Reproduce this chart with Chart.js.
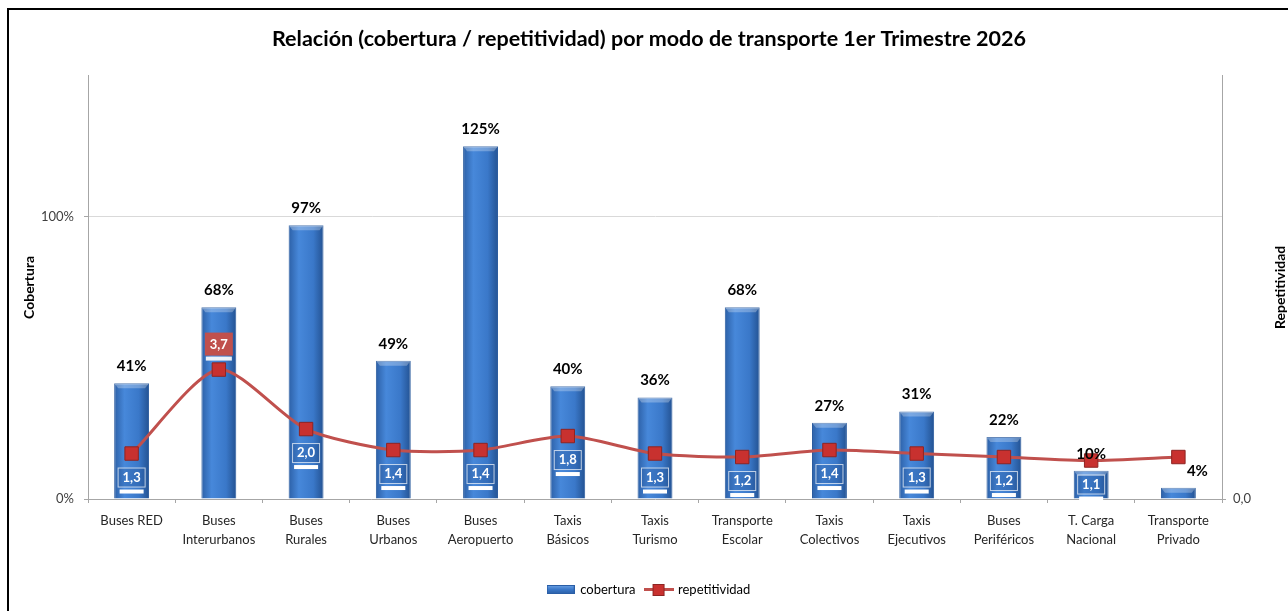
<!DOCTYPE html>
<html lang="es">
<head>
<meta charset="utf-8">
<title>Relación cobertura / repetitividad</title>
<script src="https://cdn.jsdelivr.net/npm/chart.js@4.4.1/dist/chart.umd.min.js"></script>
<style>
  html, body { margin: 0; padding: 0; background: #fff; }
  #wrap { position: relative; width: 1288px; height: 611px; }
  #frame { position: absolute; left: 7px; top: 8px; right: 0; bottom: 0; border-left: 2px solid #000; border-top: 2px solid #000; pointer-events: none; }
</style>
</head>
<body>
<div id="wrap">
  <canvas id="grafico"></canvas>
  <div id="frame"></div>
</div>
<script>
// datos del gráfico
const modos = [
  ['Buses RED'], ['Buses', 'Interurbanos'], ['Buses', 'Rurales'], ['Buses', 'Urbanos'],
  ['Buses', 'Aeropuerto'], ['Taxis', 'Básicos'], ['Taxis', 'Turismo'], ['Transporte', 'Escolar'],
  ['Taxis', 'Colectivos'], ['Taxis', 'Ejecutivos'], ['Buses', 'Periféricos'], ['T. Carga', 'Nacional'],
  ['Transporte', 'Privado']
];
const cobertura = [0.41, 0.68, 0.97, 0.49, 1.25, 0.40, 0.36, 0.68, 0.27, 0.31, 0.22, 0.10, 0.04];
const repetitividad = [1.3, 3.7, 2.0, 1.4, 1.4, 1.8, 1.3, 1.2, 1.4, 1.3, 1.2, 1.1, 1.2];
const ticksCobertura = [0, 1];
const ticksRepetitividad = [0];

const FUENTE = 'Lato, "Open Sans", sans-serif';
Chart.defaults.font.family = FUENTE;
Chart.defaults.color = '#404040';

// degradado horizontal de cada barra
function degradadoBarra(context) {
  const chart = context.chart;
  const x = chart.scales.x;
  if (!x || context.dataIndex === undefined) return '#3a78c8';
  const cx = x.getPixelForValue(context.dataIndex);
  const g = chart.ctx.createLinearGradient(cx - 18, 0, cx + 18, 0);
  g.addColorStop(0, '#2b5ea4');
  g.addColorStop(0.3, '#4788da');
  g.addColorStop(0.7, '#3a78c9');
  g.addColorStop(1, '#22508f');
  return g;
}

// iconos de la leyenda
function iconoBarra() {
  const c = document.createElement('canvas');
  c.width = 28; c.height = 9;
  const ctx = c.getContext('2d');
  const g = ctx.createLinearGradient(0, 0, 0, 9);
  g.addColorStop(0, '#6ea3e6');
  g.addColorStop(0.5, '#3b78c8');
  g.addColorStop(1, '#2a5ea6');
  ctx.fillStyle = g;
  ctx.fillRect(0, 0, 28, 9);
  ctx.strokeStyle = '#2a5ea6';
  ctx.strokeRect(0.5, 0.5, 27, 8);
  return c;
}
function iconoLinea() {
  const c = document.createElement('canvas');
  c.width = 30; c.height = 13;
  const ctx = c.getContext('2d');
  ctx.fillStyle = '#c0504d';
  ctx.fillRect(0, 5, 30, 3);
  ctx.fillStyle = '#c8312f';
  ctx.fillRect(9.5, 1.5, 11, 11);
  ctx.strokeStyle = '#8e2422';
  ctx.strokeRect(9.5, 1.5, 11, 11);
  return c;
}
const iconos = [iconoBarra(), iconoLinea()];

const etiquetas = {
  id: 'etiquetas',
  afterDatasetDraw(chart, args) {
    if (args.index !== 0) return;
    // bisel superior de las barras
    const ctx = chart.ctx;
    ctx.save();
    args.meta.data.forEach(b => {
      const w = b.width / 2;
      const h = Math.min(5, b.base - b.y);
      ctx.fillStyle = 'rgba(255,255,255,0.28)';
      ctx.beginPath();
      ctx.moveTo(b.x - w, b.y);
      ctx.lineTo(b.x + w, b.y);
      ctx.lineTo(b.x + w - 4, b.y + h);
      ctx.lineTo(b.x - w + 4, b.y + h);
      ctx.closePath();
      ctx.fill();
    });
    ctx.restore();
  },
  afterDatasetsDraw(chart) {
    const ctx = chart.ctx;
    const barras = chart.getDatasetMeta(0).data;
    const puntos = chart.getDatasetMeta(1).data;
    ctx.save();
    ctx.textAlign = 'center';
    ctx.textBaseline = 'middle';

    // etiquetas de repetitividad
    ctx.font = 'bold 13px ' + FUENTE;
    puntos.forEach((p, i) => {
      const b = barras[i];
      if (b.base - b.y < 20) return;
      const texto = repetitividad[i].toFixed(1).replace('.', ',');
      if (i === 1) {
        const cy = p.y - 25;
        ctx.fillStyle = '#c0504d';
        ctx.fillRect(p.x - 14, cy - 12, 28, 23);
        ctx.fillStyle = 'rgba(255,255,255,0.9)';
        ctx.fillRect(p.x - 13, cy + 12, 26, 4);
        ctx.fillStyle = '#fff';
        ctx.fillText(texto, p.x, cy);
      } else {
        const cy = p.y + 24;
        ctx.fillStyle = 'rgba(30,75,140,0.25)';
        ctx.fillRect(p.x - 13.5, cy - 9.5, 27, 19);
        ctx.strokeStyle = 'rgba(255,255,255,0.7)';
        ctx.lineWidth = 1;
        ctx.strokeRect(p.x - 13.5, cy - 9.5, 27, 19);
        ctx.fillStyle = '#fff';
        ctx.fillRect(p.x - 12, cy + 12, 24, 4);
        ctx.fillText(texto, p.x, cy);
      }
    });

    // porcentajes sobre las barras
    ctx.font = 'bold 15px ' + FUENTE;
    ctx.fillStyle = '#000';
    barras.forEach((b, i) => {
      const dx = i === barras.length - 1 ? 19 : 0;
      ctx.fillText(Math.round(cobertura[i] * 100) + '%', b.x + dx, b.y - 17);
    });

    // título del eje derecho
    const area = chart.chartArea;
    ctx.translate(chart.scales.y1.right - 8, (area.top + area.bottom) / 2);
    ctx.rotate(-Math.PI / 2);
    ctx.font = 'bold 14px ' + FUENTE;
    ctx.fillStyle = '#000';
    ctx.fillText('Repetitividad', 0, 0);
    ctx.restore();
  }
};

new Chart(document.getElementById('grafico'), {
  data: {
    labels: modos,
    datasets: [
      {
        type: 'bar',
        label: 'cobertura',
        data: cobertura,
        yAxisID: 'y',
        backgroundColor: degradadoBarra,
        borderColor: '#2a5b9e',
        borderWidth: 1,
        categoryPercentage: 1,
        barPercentage: 0.4,
        order: 2,
      },
      {
        type: 'line',
        label: 'repetitividad',
        data: repetitividad,
        yAxisID: 'y1',
        borderColor: '#c0504d',
        borderWidth: 3,
        tension: 0.25,
        pointStyle: 'rect',
        pointRadius: 9.5,
        pointBackgroundColor: '#c8312f',
        pointBorderColor: '#8e2422',
        pointBorderWidth: 1,
        order: 1,
      },
    ],
  },
  options: {
    responsive: true,
    maintainAspectRatio: false,
    animation: false,
    layout: { padding: { left: 10, right: 0, top: 0, bottom: 5 } },
    plugins: {
      title: {
        display: true,
        text: 'Relación (cobertura / repetitividad) por modo de transporte 1er Trimestre 2026',
        color: '#000',
        font: { size: 21.5, weight: 'bold' },
        padding: { top: 26, bottom: 24 },
      },
      legend: {
        position: 'bottom',
        labels: {
          usePointStyle: true,
          pointStyleWidth: 26,
          padding: 10,
          font: { size: 13 },
          color: '#404040',
          generateLabels: () => ['cobertura', 'repetitividad'].map((t, i) => ({
            text: t,
            pointStyle: iconos[i],
            datasetIndex: i,
            hidden: false,
            lineWidth: 0,
          })),
        },
      },
      tooltip: { enabled: false },
    },
    scales: {
      x: {
        offset: true,
        grid: { drawOnChartArea: false, offset: true, tickLength: 4, color: '#a6a6a6' },
        border: { color: '#a6a6a6' },
        ticks: { padding: 8, color: '#262626', font: { size: 13, lineHeight: 1.5 }, maxRotation: 0, autoSkip: false },
        afterFit(scale) { scale.height = 74; },
      },
      y: {
        position: 'left',
        min: 0,
        max: 1.5,
        afterBuildTicks(scale) { scale.ticks = ticksCobertura.map(v => ({ value: v })); },
        grid: {
          color: ctx => (ctx.tick && ctx.tick.value === 0 ? 'rgba(0,0,0,0)' : '#d9d9d9'),
          tickColor: '#a6a6a6',
          tickLength: 4,
        },
        border: { color: '#a6a6a6' },
        ticks: { padding: 10, color: '#404040', font: { size: 13 }, callback: v => Math.round(v * 100) + '%' },
        title: { display: true, text: 'Cobertura', color: '#000', font: { size: 14, weight: 'bold' }, padding: { top: 11, bottom: 0 } },
        afterFit(scale) { scale.width = 78; },
      },
      y1: {
        position: 'right',
        min: 0,
        max: 12.1,
        afterBuildTicks(scale) { scale.ticks = ticksRepetitividad.map(v => ({ value: v })); },
        grid: { drawOnChartArea: false, tickLength: 4, tickColor: '#a6a6a6' },
        border: { color: '#a6a6a6' },
        ticks: { padding: 7, color: '#404040', font: { size: 13 }, callback: v => v.toFixed(1).replace('.', ',') },
        afterFit(scale) { scale.width = 66; },
      },
    },
  },
  plugins: [etiquetas],
});
</script>
</body>
</html>
